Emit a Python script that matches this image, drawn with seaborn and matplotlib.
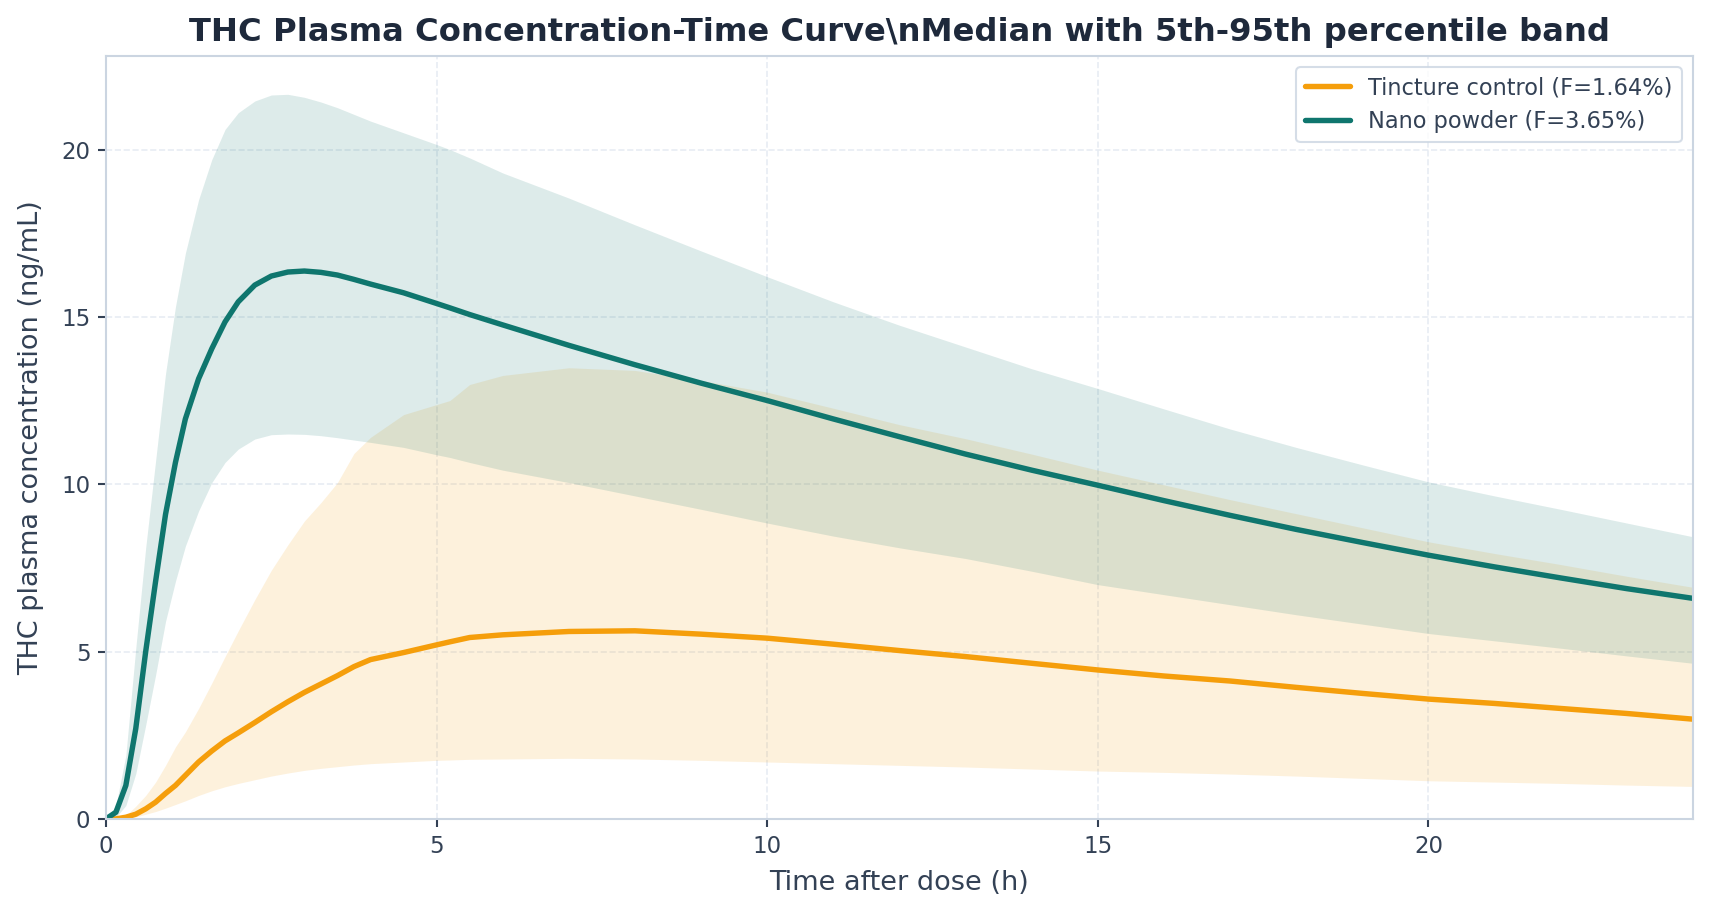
"""THC plasma concentration-time curve, median with percentile band."""

import matplotlib
matplotlib.use("Agg")
import matplotlib.pyplot as plt
import pandas as pd
import seaborn as sns

# Time grid (h)
TIME_H = [0, 0.15, 0.3, 0.45, 0.6, 0.75, 0.9, 1.05, 1.2, 1.4, 1.6, 1.8, 2.0, 2.25,
          2.5, 2.75, 3.0, 3.25, 3.5, 3.75, 4.0, 4.5, 5.0, 5.2, 5.5, 6.0, 7.0, 8.0,
          9.0, 10, 11, 12, 13, 14, 15, 16, 17, 18, 19, 20, 21, 22, 23, 24]

# Tincture control (F=1.64%)
TINCTURE_MEDIAN = [0, 0.0, 0.05, 0.14, 0.3, 0.5, 0.76, 1.0, 1.3, 1.7, 2.03, 2.33,
                   2.57, 2.88, 3.2, 3.5, 3.78, 4.03, 4.28, 4.55, 4.76, 4.97, 5.2,
                   5.29, 5.42, 5.5, 5.6, 5.62, 5.52, 5.4, 5.22, 5.03, 4.85, 4.65,
                   4.45, 4.27, 4.12, 3.93, 3.75, 3.58, 3.45, 3.3, 3.15, 2.98]
TINCTURE_P95 = [0, 0.0, 0.1, 0.38, 0.7, 1.1, 1.6, 2.15, 2.6, 3.3, 4.06, 4.85, 5.62,
                6.55, 7.43, 8.19, 8.9, 9.45, 10.05, 10.92, 11.4, 12.08, 12.38, 12.5,
                12.98, 13.25, 13.48, 13.4, 13.1, 12.75, 12.27, 11.78, 11.36, 10.9,
                10.42, 9.98, 9.54, 9.12, 8.7, 8.28, 7.93, 7.6, 7.25, 6.92]
TINCTURE_P05 = [0, 0, 0.01, 0.06, 0.14, 0.22, 0.32, 0.43, 0.54, 0.7, 0.84, 0.96,
                1.06, 1.17, 1.28, 1.37, 1.45, 1.51, 1.56, 1.61, 1.65, 1.7, 1.75,
                1.76, 1.78, 1.79, 1.81, 1.79, 1.75, 1.7, 1.65, 1.6, 1.55, 1.49,
                1.43, 1.39, 1.34, 1.28, 1.21, 1.14, 1.1, 1.06, 1.01, 0.97]

# Nano powder (F=3.65%)
NANO_MEDIAN = [0, 0.2, 1.0, 2.7, 5.0, 7.1, 9.1, 10.65, 11.95, 13.15, 14.05, 14.85,
               15.45, 15.95, 16.22, 16.34, 16.37, 16.33, 16.25, 16.12, 15.98, 15.72,
               15.4, 15.27, 15.07, 14.76, 14.15, 13.57, 13.02, 12.5, 11.95, 11.42,
               10.9, 10.42, 9.97, 9.51, 9.07, 8.65, 8.26, 7.88, 7.53, 7.2, 6.88, 6.59]
NANO_P95 = [0, 0.4, 1.9, 5.1, 8.1, 10.7, 13.3, 15.3, 16.9, 18.5, 19.7, 20.6, 21.1,
            21.45, 21.63, 21.65, 21.56, 21.42, 21.25, 21.05, 20.85, 20.5, 20.15,
            20.0, 19.75, 19.3, 18.55, 17.75, 16.97, 16.2, 15.45, 14.75, 14.1, 13.45,
            12.86, 12.25, 11.65, 11.1, 10.58, 10.07, 9.65, 9.25, 8.84, 8.43]
NANO_P05 = [0, 0.05, 0.4, 1.35, 2.8, 4.3, 5.9, 7.1, 8.15, 9.2, 10.05, 10.65, 11.05,
            11.35, 11.48, 11.5, 11.49, 11.45, 11.39, 11.32, 11.25, 11.1, 10.88,
            10.8, 10.65, 10.42, 10.05, 9.65, 9.25, 8.84, 8.45, 8.1, 7.78, 7.4, 7.0,
            6.7, 6.4, 6.1, 5.82, 5.54, 5.32, 5.1, 4.87, 4.65]

FORMULATIONS = ["Tincture control (F=1.64%)", "Nano powder (F=3.65%)"]
COLORS = ["#f59e0b", "#0f766e"]

TEXT_DARK = "#1e293b"
TEXT_MID = "#334155"
SPINE = "#cbd5e1"

sns.set_theme(style="whitegrid")
plt.rcParams["font.family"] = ["DejaVu Sans"]

frames = []
for name, med, lo, hi in [
    (FORMULATIONS[0], TINCTURE_MEDIAN, TINCTURE_P05, TINCTURE_P95),
    (FORMULATIONS[1], NANO_MEDIAN, NANO_P05, NANO_P95),
]:
    frames.append(pd.DataFrame({
        "time": TIME_H, "median": med, "p05": lo, "p95": hi, "formulation": name,
    }))
df = pd.concat(frames, ignore_index=True)

fig, ax = plt.subplots(figsize=(11.4, 6.107), dpi=150)
fig.subplots_adjust(left=0.062, right=0.990, top=0.939, bottom=0.106)

for name, color in zip(FORMULATIONS, COLORS):
    sub = df[df["formulation"] == name]
    ax.fill_between(sub["time"], sub["p05"], sub["p95"], color=color, alpha=0.14,
                    linewidth=0)

sns.lineplot(data=df, x="time", y="median", hue="formulation", hue_order=FORMULATIONS,
             palette=COLORS, linewidth=2.6, ax=ax)

ax.set_xlim(0, 24)
ax.set_ylim(0, 22.8)
ax.set_xticks([0, 5, 10, 15, 20])
ax.set_yticks([0, 5, 10, 15, 20])

ax.grid(True, linestyle="--", color="#e2e8f0", linewidth=0.8, alpha=0.8)
for spine in ax.spines.values():
    spine.set_color(SPINE)
    spine.set_linewidth(1.0)
ax.tick_params(axis="both", colors=TEXT_MID, labelsize=11, length=4, width=1,
               direction="out", bottom=True, left=True)

ax.set_title("THC Plasma Concentration-Time Curve\\nMedian with 5th-95th percentile band",
             fontsize=15.5, fontweight="bold", color=TEXT_DARK, pad=7)
ax.set_xlabel("Time after dose (h)", fontsize=13, color=TEXT_MID, labelpad=6)
ax.set_ylabel("THC plasma concentration (ng/mL)", fontsize=13, color=TEXT_MID,
              labelpad=8)

leg = ax.legend(loc="upper right", fontsize=10.8, frameon=True, title=None)
leg.get_frame().set_edgecolor(SPINE)
for text in leg.get_texts():
    text.set_color(TEXT_MID)

fig.savefig("out.png", dpi=150)
plt.close(fig)
